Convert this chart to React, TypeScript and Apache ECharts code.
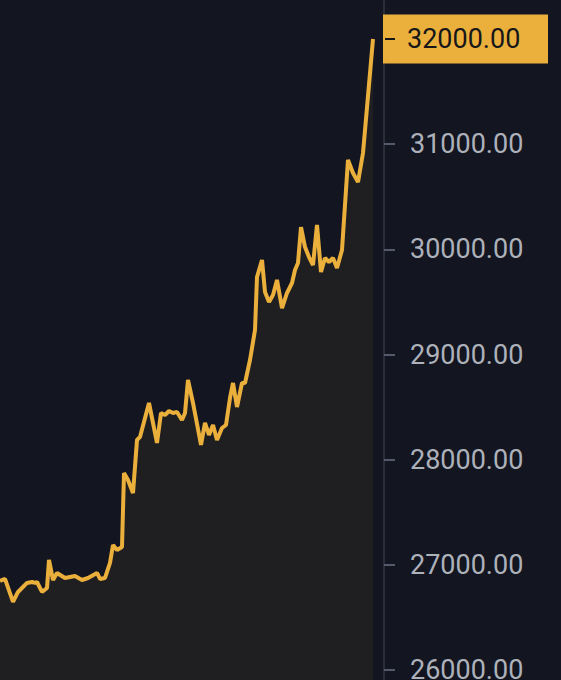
import React, { useEffect, useRef } from "react";
import * as echarts from "echarts";

// time steps (horizontal position index) and prices
const timeIndex = [
  0, 5, 13, 18, 27, 32, 35, 37, 42, 47,
  49, 53, 57, 65, 75, 82, 88, 97, 100, 105,
  110, 113, 117, 122, 124, 128, 133, 137, 140, 149,
  157, 161, 165, 169, 173, 177, 182, 185, 188, 193,
  201, 205, 209, 213, 217, 222, 226, 230, 233, 237,
  242, 245, 250, 255, 257, 262, 265, 269, 273, 277,
  282, 287, 292, 295, 298, 301, 305, 309, 313, 317,
  321, 325, 329, 333, 337, 342, 348, 353, 358, 363,
  373,
];
const prices = [
  26847, 26866, 26647, 26742, 26828, 26837, 26828, 26837, 26742, 26780,
  27046, 26856, 26923, 26875, 26894, 26856, 26875, 26923, 26866, 26875,
  27018, 27189, 27141, 27170, 27874, 27807, 27683, 28187, 28216, 28539,
  28159, 28444, 28425, 28463, 28444, 28454, 28377, 28444, 28758, 28539,
  28140, 28349, 28235, 28330, 28187, 28301, 28330, 28587, 28729, 28501,
  28729, 28729, 28948, 29233, 29737, 29899, 29594, 29499, 29566, 29709,
  29442, 29585, 29680, 29804, 29870, 30212, 30022, 29927, 29851, 30232,
  29785, 29918, 29880, 29918, 29823, 29994, 30850, 30726, 30640, 30916,
  32000,
];
const tickValues = [26000, 27000, 28000, 29000, 30000, 31000, 32000];
const labelValues = [26000, 27000, 28000, 29000, 30000, 31000];
const lastPrice = 32000;

const GOLD = "#EBB03C";
const BG = "#131520";
const X_MAX = 384;

export default function App() {
  const ref = useRef<HTMLDivElement>(null);
  useEffect(() => {
    if (!ref.current) return;
    const chart = echarts.init(ref.current, null, { renderer: "svg" });
    const data = timeIndex.map((t, i) => [t, prices[i]]);
    chart.setOption({
      animation: false,
      backgroundColor: BG,
      grid: { left: 0, right: 177, top: 0, bottom: 0, outerBoundsMode: "none" },
      xAxis: { type: "value", min: 0, max: X_MAX, show: false },
      yAxis: {
        type: "value",
        position: "right",
        min: 25905,
        max: 32371,
        splitLine: { show: false },
        axisLine: { show: true, onZero: false, lineStyle: { color: "#2a2e3a", width: 2 } },
        axisTick: {
          show: true,
          inside: false,
          customValues: tickValues,
          length: 11,
          lineStyle: { color: "#555a6a", width: 2 },
        },
        axisLabel: {
          customValues: labelValues,
          margin: 26,
          color: "#adb1ba",
          fontFamily: "Roboto",
          fontSize: 27,
          formatter: (v: number) => v.toFixed(2),
        },
      },
      series: [
        {
          type: "line",
          data,
          clip: false,
          symbol: "none",
          lineStyle: { color: GOLD, width: 4 },
          areaStyle: { color: "#1f1f22", opacity: 1 },
        },
      ],
    });
    const y = chart.convertToPixel({ yAxisIndex: 0 }, lastPrice) as number;
    const x = chart.convertToPixel({ xAxisIndex: 0 }, X_MAX) as number;
    chart.setOption({
      graphic: [
        {
          type: "rect",
          z: 100,
          shape: { x: x - 1, y: y - 24.5, width: 165, height: 49 },
          style: { fill: GOLD },
        },
        {
          type: "text",
          z: 101,
          x: x + 23,
          y: y,
          style: {
            text: lastPrice.toFixed(2),
            fill: "#17171a",
            font: "27px Roboto",
            verticalAlign: "middle",
            align: "left",
          },
        },
        {
          type: "line",
          z: 101,
          shape: { x1: x + 1, y1: y, x2: x + 11, y2: y },
          style: { stroke: "#17171a", lineWidth: 2 },
        },
      ],
    });
    return () => chart.dispose();
  }, []);
  return (
    <div
      ref={ref}
      style={{ position: "fixed", left: 0, top: 0, width: 561, height: 680, background: BG }}
    />
  );
}
